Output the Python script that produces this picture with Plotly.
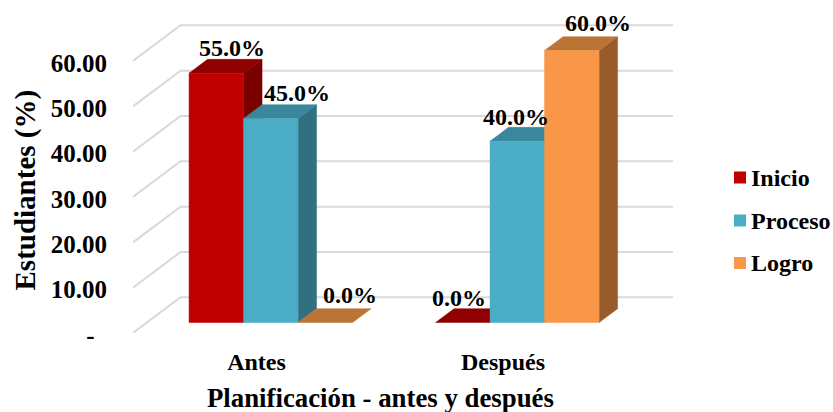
import plotly.graph_objects as go

CATEGORIES = ["Antes", "Después"]
SERIES = ["Inicio", "Proceso", "Logro"]
INICIO = [55.0, 0.0]
PROCESO = [45.0, 40.0]
LOGRO = [0.0, 60.0]
VALUES = [INICIO, PROCESO, LOGRO]
Y_TICKS = [0, 10, 20, 30, 40, 50, 60]
Y_TICK_TEXT = ["-\u00a0\u00a0", "10.00", "20.00", "30.00", "40.00", "50.00", "60.00"]

FRONT = ["#C00000", "#4BACC6", "#F99749"]
TOP = ["#900000", "#3A869C", "#BB7436"]
SIDE = ["#7B0000", "#33707F", "#985C2C"]
GRID = "#D9D9D9"
FONT = "Liberation Serif"

# pixel frame of the plot area
L, R, T, B = 133, 673, 6, 333
PX_CAT = 246.5
PX_VAL = 272 / 60
X0 = -(256.5 - L) / PX_CAT
XR = X0 + (R - L) / PX_CAT
YT = (B - T) / PX_VAL

# oblique projection, in data units
WALL_DX, WALL_DY = 47.5 / PX_CAT, 35.7 / PX_VAL
BAR_SHIFT_X, BAR_SHIFT_Y = 14.3 / PX_CAT, 10.5 / PX_VAL
BAR_DX, BAR_DY = 18.5 / PX_CAT, 13.8 / PX_VAL
BAR_W = 54.5 / PX_CAT

fig = go.Figure()


def poly(xs, ys, color, name, hover=None):
    fig.add_trace(go.Scatter(
        x=xs + xs[:1], y=ys + ys[:1], mode="lines", fill="toself", fillcolor=color,
        line=dict(color=color, width=0.5), showlegend=False, name=name,
        hoverinfo="text" if hover else "skip", text=hover,
    ))


# gridlines: side wall + back wall
gx, gy = [], []
for v in Y_TICKS:
    gx += [X0, X0 + WALL_DX, XR, None]
    gy += [v, v + WALL_DY, v + WALL_DY, None]
fig.add_trace(go.Scatter(x=gx, y=gy, mode="lines", line=dict(color=GRID, width=2),
                         showlegend=False, hoverinfo="skip"))

LABEL_NUDGE = {(0, 0): (16, 25), (0, 1): (26.5, 26), (0, 2): (24.5, 28),
               (1, 0): (-4, 25), (1, 1): (-1, 24), (1, 2): (26, 28)}
annotations = []
for c in range(len(CATEGORIES)):
    for s, vals in enumerate(VALUES):
        v = vals[c]
        x0 = c + BAR_SHIFT_X + (s - 1.5) * BAR_W
        x1 = x0 + BAR_W
        y0 = BAR_SHIFT_Y
        y1 = y0 + v
        name = SERIES[s]
        if v > 0:
            poly([x1, x1 + BAR_DX, x1 + BAR_DX, x1], [y0, y0 + BAR_DY, y1 + BAR_DY, y1], SIDE[s], name)
        poly([x0, x1, x1 + BAR_DX, x0 + BAR_DX], [y1, y1, y1 + BAR_DY, y1 + BAR_DY], TOP[s], name)
        if v > 0:
            poly([x0, x1, x1, x0], [y0, y0, y1, y1], FRONT[s], name,
                 f"{CATEGORIES[c]} – {name}: {v:.1f}%")
        dx, dy = LABEL_NUDGE[(c, s)]
        annotations.append(dict(x=(x0 + x1) / 2, y=y1, xref="x", yref="y", text=f"<b>{v:.1f}%</b>",
                                showarrow=False, xshift=dx, yshift=dy, xanchor="center", yanchor="middle",
                                font=dict(size=24, color="black", family=FONT)))

# legend
LEGEND_Y = [177.5, 220.5, 263]
for i, (name, yc) in enumerate(zip(SERIES, LEGEND_Y)):
    annotations.append(dict(x=748.5 / 833, y=1 - yc / 412, xref="paper", yref="paper", text=f"<b>{name}</b>",
                            showarrow=False, xanchor="left", yanchor="middle",
                            font=dict(size=24, color="black", family=FONT)))
shapes = [dict(type="rect", xref="paper", yref="paper", x0=734 / 833, x1=746 / 833,
               y0=1 - (yc + 6) / 412, y1=1 - (yc - 6) / 412, fillcolor=FRONT[i], line_width=0)
          for i, yc in enumerate(LEGEND_Y)]

annotations.append(dict(x=380 / 833, y=1 - 397.5 / 412, xref="paper", yref="paper",
                        text="<b>Planificación - antes y después</b>", showarrow=False,
                        xanchor="center", yanchor="middle", font=dict(size=26.8, color="black", family=FONT)))
annotations.append(dict(x=24.5 / 833, y=1 - 190 / 412, xref="paper", yref="paper",
                        text="<b>Estudiantes (%)</b>", showarrow=False, textangle=-90,
                        xanchor="center", yanchor="middle", font=dict(size=29, color="black", family=FONT)))

fig.update_layout(
    width=833, height=412, autosize=False,
    margin=dict(l=0, r=0, t=0, b=0),
    paper_bgcolor="white", plot_bgcolor="white", showlegend=False,
    annotations=annotations, shapes=shapes,
    font=dict(family=FONT, color="black"),
    xaxis=dict(domain=[L / 833, R / 833], range=[X0, XR], tickmode="array", tickvals=[0, 1], automargin=False,
               ticktext=[f"<b>{c}</b>" for c in CATEGORIES], showgrid=False, zeroline=False, showline=False,
               ticks="", ticklabelstandoff=12, tickfont=dict(size=24, color="black", family=FONT)),
    yaxis=dict(domain=[1 - B / 412, 1 - T / 412], range=[0, YT], tickmode="array", tickvals=Y_TICKS, automargin=False,
               ticktext=[f"<b>{t}</b>" for t in Y_TICK_TEXT], showgrid=False, zeroline=False, showline=False,
               ticks="", ticklabelstandoff=25, ticklabelshift=2, tickfont=dict(size=25, color="black", family=FONT)),
)
fig.write_html("out.html", config=dict(displayModeBar=False),
               post_script="document.body.style.margin='0';document.body.style.overflow='hidden';")
